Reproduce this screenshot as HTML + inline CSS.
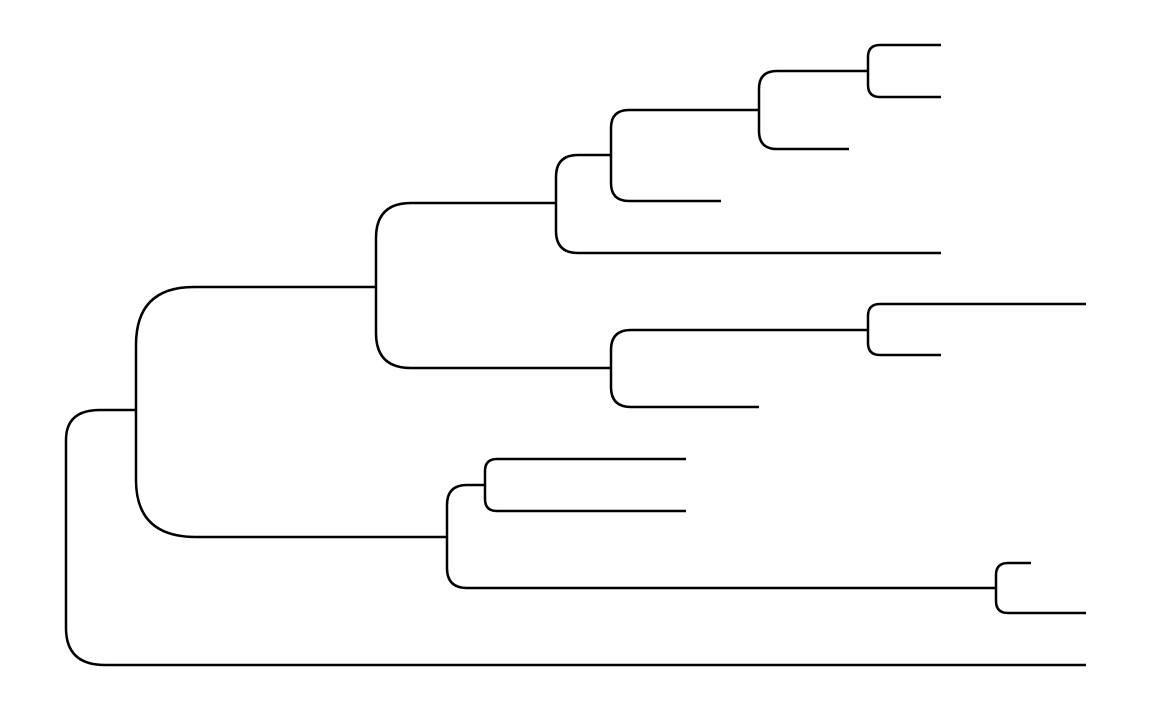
<!DOCTYPE html>
<html><head><meta charset="utf-8"><style>html,body{margin:0;padding:0;background:#fff}svg{display:block}</style></head>
<body>
<svg width="1152" height="711" viewBox="0 0 1152 711" xmlns="http://www.w3.org/2000/svg" fill="none" stroke="#000" stroke-width="2.5">
<!-- root x=66, mid 410 -->
<path d="M66,440 L66,440 Q66,410 100,410 L136,410"/>
<path d="M66,440 L66,628 Q66,665 105,665 L1086,665"/>
<!-- node x=136 -->
<path d="M136,410 L136,345 Q136,287 194,287 L376,287"/>
<path d="M136,410 L136,480 Q136,537 196,537 L447,537"/>
<!-- node x=376 -->
<path d="M376,287 L376,238 Q376,203 411,203 L556,203"/>
<path d="M376,287 L376,333 Q376,368 411,368 L611,368"/>
<!-- node x=556 -->
<path d="M556,203 L556,177 Q556,155 578,155 L611,155"/>
<path d="M556,203 L556,231 Q556,253 578,253 L941,253"/>
<!-- node x=611 upper -->
<path d="M611,155 L611,128 Q611,110 629,110 L759,110"/>
<path d="M611,155 L611,183 Q611,201 629,201 L721,201"/>
<!-- node x=759 -->
<path d="M759,110 L759,89 Q759,71 777,71 L868,71"/>
<path d="M759,110 L759,131 Q759,149 777,149 L849,149"/>
<!-- node x=868 top -->
<path d="M868,71 L868,57 Q868,45 880,45 L941,45"/>
<path d="M868,71 L868,85 Q868,97 880,97 L941,97"/>
<!-- node x=611 lower -->
<path d="M611,368 L611,350 Q611,330 631,330 L868,330"/>
<path d="M611,368 L611,387 Q611,407 631,407 L759,407"/>
<!-- node x=868 lower -->
<path d="M868,330 L868,316 Q868,304 880,304 L1086,304"/>
<path d="M868,330 L868,343 Q868,355 880,355 L941,355"/>
<!-- node x=447 -->
<path d="M447,537 L447,505 Q447,485 467,485 L485,485"/>
<path d="M447,537 L447,568 Q447,588 467,588 L996,588"/>
<!-- node x=485 -->
<path d="M485,485 L485,471 Q485,459 497,459 L686,459"/>
<path d="M485,485 L485,499 Q485,511 497,511 L686,511"/>
<!-- node x=996 -->
<path d="M996,588 L996,575 Q996,563 1008,563 L1031,563"/>
<path d="M996,588 L996,601 Q996,613 1008,613 L1086,613"/>
</svg>
</body></html>
